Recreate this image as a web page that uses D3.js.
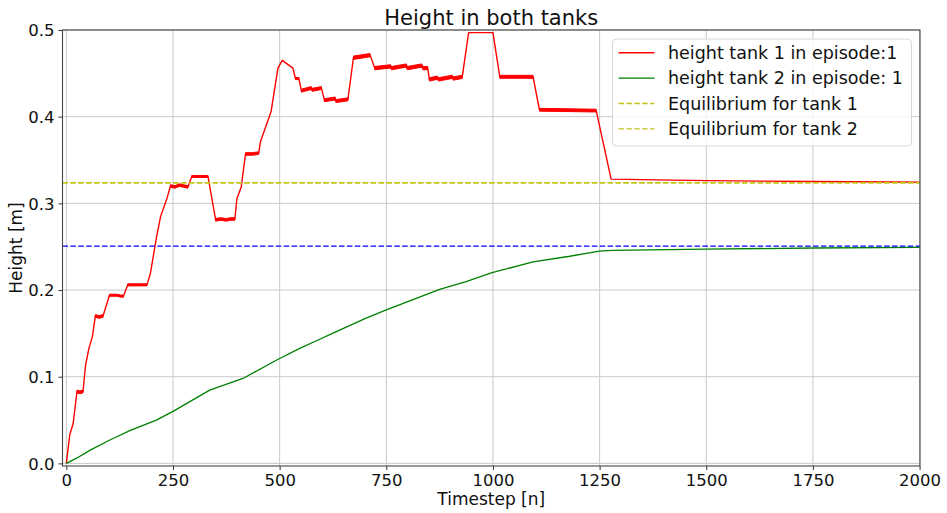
<!DOCTYPE html>
<html>
<head>
<meta charset="utf-8">
<script src="https://cdn.jsdelivr.net/npm/d3@7"></script>
<style>
  html, body { margin: 0; padding: 0; background: #fff; }
  svg { display: block; font-family: "DejaVu Sans", sans-serif; }
</style>
</head>
<body>
<svg id="chart" width="947" height="513"></svg>
<script>
// ---- data ---------------------------------------------------------------
// Tank 1 level (breakpoints of the recorded trace)
const tank1Step = [
  0, 8, 16, 25, 32, 39, 45, 53, 61, 68, 77, 86, 101, 118, 128, 134, 144, 165, 189,
  197, 211, 221, 236, 244, 255, 265, 275, 285, 294, 332, 350, 362, 374, 386, 395,
  400, 410, 420, 436, 451, 455, 480, 496, 506, 531, 537, 545, 551, 574, 576, 598,
  605, 630, 632, 660, 673, 712, 723, 760, 762, 797, 799, 833, 836, 847, 851, 870,
  872, 905, 907, 928, 943, 1000, 1016, 1094, 1109, 1242, 1277, 1500, 1750, 2000
];
const tank1Height = [
  0.000, 0.033, 0.046, 0.083, 0.082, 0.083, 0.113, 0.133, 0.146, 0.170, 0.169, 0.170, 0.194, 0.194, 0.193, 0.193, 0.206, 0.206, 0.206,
  0.219, 0.260, 0.285, 0.306, 0.320, 0.319, 0.321, 0.320, 0.319, 0.331, 0.331, 0.281, 0.282, 0.281, 0.282, 0.282,
  0.306, 0.319, 0.357, 0.357, 0.358, 0.371, 0.406, 0.456, 0.465, 0.456, 0.444, 0.444, 0.430, 0.433, 0.431, 0.433,
  0.419, 0.421, 0.418, 0.420, 0.468, 0.471, 0.456, 0.458, 0.456, 0.459, 0.456, 0.459, 0.456, 0.456, 0.443, 0.445,
  0.443, 0.446, 0.444, 0.446, 0.497, 0.497, 0.446, 0.446, 0.408, 0.407, 0.328, 0.3262, 0.3252, 0.3243
];
// Timestep ranges where tank 1 chatters around its level, with the swing (m)
const tank1RippleFrom = [25, 68, 101, 144, 244, 294, 350, 420, 537, 551, 605, 673, 723, 851, 1016, 1109];
const tank1RippleTo   = [39, 86, 134, 189, 285, 332, 395, 451, 545, 598, 660, 712, 847, 928, 1094, 1242];
const tank1RippleAmp  = [0.0016, 0.0016, 0.0012, 0.0012, 0.0015, 0.0012, 0.0015, 0.0015, 0.0012, 0.0017, 0.0017, 0.0019, 0.0019, 0.0019, 0.0017, 0.0016];

// Tank 2 level
const tank2Step = [0, 24, 55, 102, 150, 211, 250, 336, 414, 492, 547, 594, 625, 700, 750, 875, 937, 998, 1094, 1180, 1250, 1280, 1500, 1750, 2000];
const tank2Height = [0.000, 0.006, 0.015, 0.027, 0.038, 0.050, 0.060, 0.0846, 0.098, 0.119, 0.1327, 0.1432, 0.1502, 0.167, 0.177, 0.2008, 0.2096, 0.220, 0.2326, 0.239, 0.245, 0.2458, 0.2472, 0.2485, 0.2492];

// Equilibrium levels
const equilibriumTank1 = 0.3238;
const equilibriumTank2 = 0.3238;
const referenceLevel = 0.2507;

const xTicks = [0, 250, 500, 750, 1000, 1250, 1500, 1750, 2000];
const yTicks = [0.0, 0.1, 0.2, 0.3, 0.4, 0.5];

const legendLabels = [
  "height tank 1 in episode:1",
  "height tank 2 in episode: 1",
  "Equilibrium for tank 1",
  "Equilibrium for tank 2"
];

// ---- layout ---------------------------------------------------------------
const svg = d3.select("#chart");
const plot = { left: 62.5, right: 920, top: 30, bottom: 466 };

const x = d3.scaleLinear().domain([-9, 2001]).range([plot.left, plot.right]);
const y = d3.scaleLinear().domain([-0.003, 0.5]).range([plot.bottom, plot.top]);

const COLORS = { red: "#ff0000", green: "#008000", yellow: "#c4c41a", blue: "#0000ff" };

const defs = svg.append("defs");
defs.append("clipPath").attr("id", "plotClip")
  .append("rect")
  .attr("x", plot.left).attr("y", plot.top)
  .attr("width", plot.right - plot.left).attr("height", plot.bottom - plot.top);

// grid
const grid = svg.append("g").attr("stroke", "#c9c9c9").attr("stroke-width", 1);
xTicks.forEach(t => grid.append("line")
  .attr("x1", x(t)).attr("x2", x(t)).attr("y1", plot.top).attr("y2", plot.bottom));
yTicks.forEach(t => grid.append("line")
  .attr("x1", plot.left).attr("x2", plot.right).attr("y1", y(t)).attr("y2", y(t)));

const body = svg.append("g").attr("clip-path", "url(#plotClip)");

const tank1 = tank1Step.map((s, i) => ({ s, h: tank1Height[i] }));
const tank2 = tank2Step.map((s, i) => ({ s, h: tank2Height[i] }));

const line = d3.line().x(d => x(d.s)).y(d => y(d.h));

// chatter bands on tank 1
tank1RippleFrom.forEach((from, i) => {
  const to = tank1RippleTo[i], amp = tank1RippleAmp[i];
  const pts = tank1.filter(d => d.s >= from && d.s <= to);
  body.append("path")
    .datum(pts)
    .attr("fill", COLORS.red)
    .attr("stroke", COLORS.red)
    .attr("stroke-width", 1)
    .attr("d", d3.area().x(d => x(d.s)).y0(d => y(d.h - amp)).y1(d => y(d.h + amp)));
});

body.append("path").datum(tank1)
  .attr("fill", "none").attr("stroke", COLORS.red).attr("stroke-width", 1.4)
  .attr("stroke-linejoin", "round").attr("d", line);

body.append("path").datum(tank2)
  .attr("fill", "none").attr("stroke", COLORS.green).attr("stroke-width", 1.3)
  .attr("stroke-linejoin", "round").attr("d", line);

// equilibrium / reference lines
const dash = "5.5,2.4";
[equilibriumTank1, equilibriumTank2].forEach(v => body.append("line")
  .attr("x1", plot.left).attr("x2", plot.right).attr("y1", y(v)).attr("y2", y(v))
  .attr("stroke", COLORS.yellow).attr("stroke-width", 1.4).attr("stroke-dasharray", dash));
body.append("line")
  .attr("x1", plot.left).attr("x2", plot.right).attr("y1", y(referenceLevel)).attr("y2", y(referenceLevel))
  .attr("stroke", COLORS.blue).attr("stroke-width", 1.4).attr("stroke-dasharray", dash);

// axes
const xAxis = svg.append("g").attr("transform", `translate(0,${plot.bottom})`)
  .call(d3.axisBottom(x).tickValues(xTicks).tickFormat(d3.format("d")).tickSize(4).tickPadding(4));
const yAxis = svg.append("g").attr("transform", `translate(${plot.left},0)`)
  .call(d3.axisLeft(y).tickValues(yTicks).tickFormat(d3.format(".1f")).tickSize(4).tickPadding(4));
[xAxis, yAxis].forEach(a => {
  a.select(".domain").remove();
  a.selectAll(".tick line").attr("stroke", "#333");
  a.selectAll(".tick text").attr("fill", "#111").style("font-size", "16.5px")
    .style("font-family", "'DejaVu Sans', sans-serif");
});
xAxis.selectAll(".tick text").attr("dy", "0.72em");
yAxis.selectAll(".tick text").attr("dy", "0.36em");

// frame
svg.append("rect")
  .attr("x", plot.left).attr("y", plot.top)
  .attr("width", plot.right - plot.left).attr("height", plot.bottom - plot.top)
  .attr("fill", "none").attr("stroke", "#444").attr("stroke-width", 1.1);

// titles
svg.append("text").attr("x", (plot.left + plot.right) / 2).attr("y", 25)
  .attr("text-anchor", "middle").style("font-size", "21px").attr("fill", "#111")
  .text("Height in both tanks");
svg.append("text").attr("x", (plot.left + plot.right) / 2).attr("y", 505)
  .attr("text-anchor", "middle").style("font-size", "17px").attr("fill", "#111")
  .text("Timestep [n]");
svg.append("text")
  .attr("transform", `translate(22,${(plot.top + plot.bottom) / 2}) rotate(-90)`)
  .attr("text-anchor", "middle").style("font-size", "17px").attr("fill", "#111")
  .text("Height [m]");

// legend
const legend = svg.append("g").attr("transform", "translate(612.5,39)");
legend.append("rect")
  .attr("width", 299).attr("height", 107).attr("rx", 4)
  .attr("fill", "#fff").attr("fill-opacity", 0.8)
  .attr("stroke", "#d6d6d6").attr("stroke-width", 1);
const legendStyles = [
  { color: COLORS.red, dash: null },
  { color: COLORS.green, dash: null },
  { color: COLORS.yellow, dash: dash },
  { color: COLORS.yellow, dash: dash }
];
legendLabels.forEach((label, i) => {
  const cy = 13.7 + i * 25.4;
  legend.append("line")
    .attr("x1", 6).attr("x2", 42).attr("y1", cy).attr("y2", cy)
    .attr("stroke", legendStyles[i].color).attr("stroke-width", 1.4)
    .attr("stroke-dasharray", legendStyles[i].dash);
  legend.append("text").attr("x", 55.5).attr("y", cy).attr("dy", "0.36em")
    .style("font-size", "17.5px").attr("fill", "#111").text(label);
});
</script>
</body>
</html>
